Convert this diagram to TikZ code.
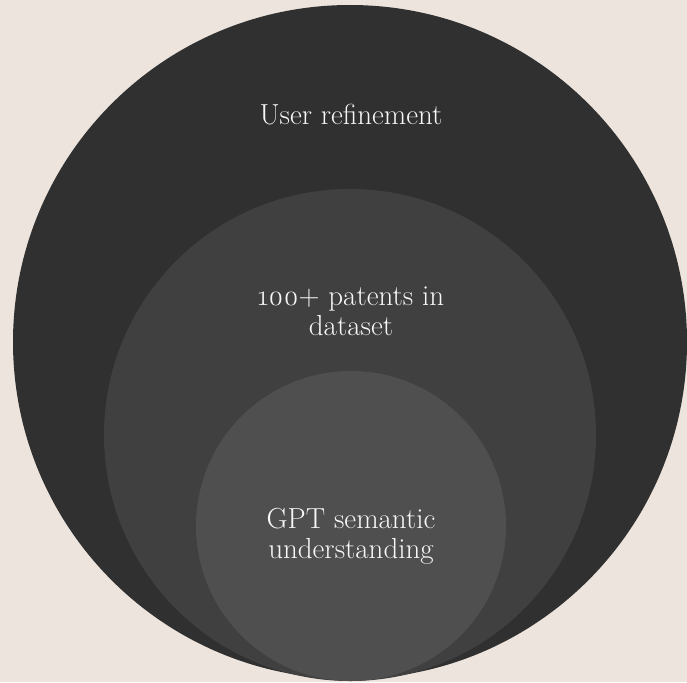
\documentclass[tikz,border=0pt]{standalone}
\usepackage{fontspec}
\setmainfont{Latin Modern Roman}[Numbers=OldStyle]
\definecolor{bg}{HTML}{EDE4DD}
\definecolor{c1}{HTML}{303030}
\definecolor{c2}{HTML}{404040}
\definecolor{c3}{HTML}{4F4F4F}
\definecolor{txt}{HTML}{F7F7F7}
\begin{document}
\begin{tikzpicture}[x=1pt,y=-1pt,
  lbl/.style={text=txt,align=center,inner sep=0pt,font=\fontsize{29}{30}\selectfont}]
\clip (0,0) rectangle (687,682);
\fill[bg] (0,0) rectangle (687,682);
\fill[c1] (350,342) circle[radius=337];
\fill[c2] (350,435) circle[radius=246];
\fill[c3] (351,526) circle[radius=155];
\node[lbl] (outer) at (351,115) {User refinement};
\node[lbl] (middle) at (351,311) {100+ patents in\\dataset};
\node[lbl] (inner) at (351,536) {GPT semantic\\understanding};
\end{tikzpicture}
\end{document}
